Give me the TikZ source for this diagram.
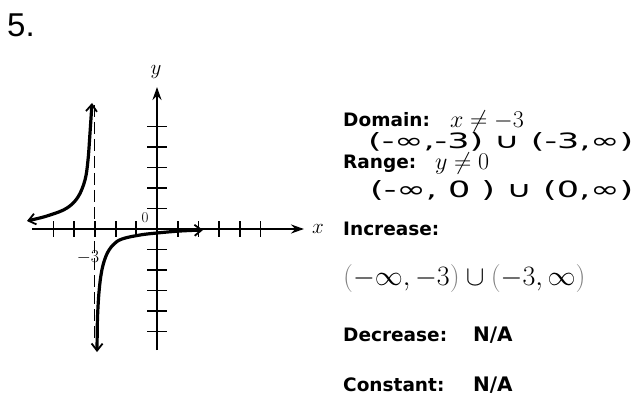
\RequirePackage{fix-cm}
\documentclass[tikz,border=0pt]{standalone}
\usepackage{fontspec}
\usetikzlibrary{arrows.meta}
\newfontfamily\labelfont{DejaVu Sans}
\newfontfamily\handfont{DejaVu Sans}
\newfontfamily\numfont{Liberation Sans}
\tikzset{
  lbl/.style={anchor=base west, inner sep=0pt, font=\labelfont\bfseries\fontsize{18.5}{20}\selectfont},
  nalbl/.style={anchor=base west, inner sep=0pt, font=\labelfont\bfseries\fontsize{20}{22}\selectfont},
  hand/.style={anchor=base west, inner sep=0pt, font=\handfont\fontsize{22}{24}\selectfont},
  mathlbl/.style={anchor=base west, inner sep=0pt, font=\fontsize{24}{26}\selectfont},
  axis/.style={line width=2.2pt, -{Stealth[length=13pt,width=9pt]}},
  curve/.style={line width=3.2pt, line cap=round, {Straight Barb[length=7pt,width=11pt,line width=1.8pt]}-{Straight Barb[length=7pt,width=11pt,line width=1.8pt]}},
  tickmark/.style={line width=1.8pt},
  asym/.style={line width=1.4pt, dash pattern=on 12pt off 5pt},
}
\begin{document}
\begin{tikzpicture}[x=1pt,y=-1pt]
\useasboundingbox (0,0) rectangle (641,396);
% number
\node[anchor=base west, inner sep=0pt, font=\numfont\fontsize{33}{35}\selectfont] (num) at (7,37) {5.};
% axes
\coordinate (xl) at (32,229);
\coordinate (xr) at (304,229);
\coordinate (yb) at (157,350);
\coordinate (yt) at (157,87);
\draw[axis] (xl) -- (xr);
\draw[axis] (yb) -- (yt);
\foreach \k in {-5,...,-1,1,2,...,5}{
  \draw[tickmark] (157+20.7*\k,221) -- (157+20.7*\k,237);
  \draw[tickmark] (147,229+20.5*\k) -- (167,229+20.5*\k);
}
\node[font=\fontsize{21}{22}\selectfont, inner sep=0pt] (xlab) at (318,229) {$x$};
\node[font=\fontsize{21}{22}\selectfont, inner sep=0pt] (ylab) at (156,72) {$y$};
\node[font=\fontsize{15}{16}\selectfont, inner sep=0pt] (zero) at (145,218) {0};
\node[font=\fontsize{18}{19}\selectfont, inner sep=0pt] (m3) at (88,257) {$-3$};
% asymptote
\draw[asym] (94.5,105) -- (94.5,340);
% curve branches
\draw[curve] plot[smooth, tension=0.6] coordinates {(27,221) (50,215) (67,208) (78,197) (85,180) (88,160) (90,133) (92,103)};
\draw[curve] plot[smooth, tension=0.6] coordinates {(97,352) (98,307) (101,275) (106,256) (113,245) (122,239) (140,235) (157,233) (180,231) (203,230)};
% text block
\node[lbl] (dom) at (343,127) {Domain:};
\node[mathlbl] (domx) at (450,128) {$x\neq-3$};
\node[hand] (domh) at (368,149) {\resizebox{265pt}{16pt}{(-∞,-3) ∪ (-3,∞)}};
\node[lbl] (rng) at (343,168) {Range:};
\node[mathlbl] (rngy) at (435,170) {$y\neq0$};
\node[hand] (rngh) at (370,197) {\resizebox{263pt}{17pt}{(-∞, 0 ) ∪ (0,∞)}};
\node[lbl] (inc) at (343,236) {Increase:};
\node[anchor=base west, inner sep=0pt, font=\fontsize{28}{30}\selectfont] (incm) at (343,285)
  {$\mathopen{\textcolor{gray}{(}}-\infty,-3\mathclose{\textcolor{gray}{)}}\cup\mathopen{\textcolor{gray}{(}}-3,\infty\mathclose{\textcolor{gray}{)}}$};
\node[lbl] (dec) at (343,341) {Decrease:};
\node[nalbl] (decv) at (473,341) {N/A};
\node[lbl] (con) at (343,391) {Constant:};
\node[nalbl] (conv) at (473,391) {N/A};
\end{tikzpicture}
\end{document}
